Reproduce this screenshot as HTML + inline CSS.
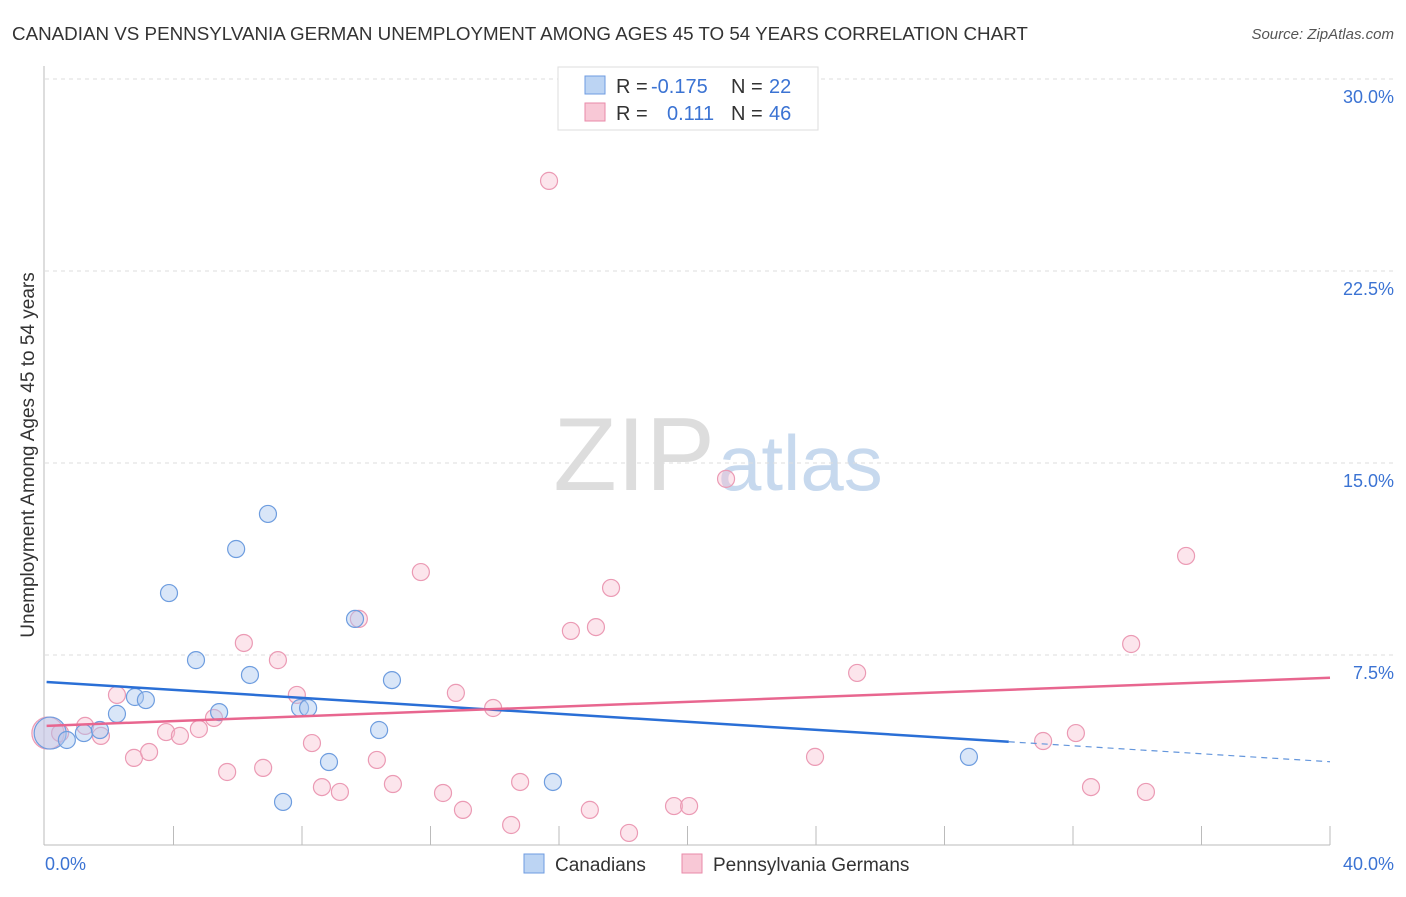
<!DOCTYPE html>
<html><head><meta charset="utf-8"><style>
body{margin:0;background:#fff;font-family:"Liberation Sans",sans-serif;}
svg text{font-family:"Liberation Sans",sans-serif;}
</style></head><body>
<svg id="chart" width="1406" height="892">
<text x="12" y="40" font-size="18.8" fill="#333">CANADIAN VS PENNSYLVANIA GERMAN UNEMPLOYMENT AMONG AGES 45 TO 54 YEARS CORRELATION CHART</text>
<text x="1394" y="39" font-size="15" fill="#555" font-style="italic" text-anchor="end">Source: ZipAtlas.com</text>
<text x="715" y="490" font-size="104" fill="#ddd" text-anchor="end" font-family="Liberation Serif">ZIP</text>
<text x="718" y="490" font-size="78" fill="#c7d9ee">atlas</text>
<g id="grid"></g><g id="axes"></g><g id="pts"></g><g id="lines"></g>
<text transform="translate(34,455) rotate(-90)" font-size="19" fill="#333" text-anchor="middle">Unemployment Among Ages 45 to 54 years</text>
<text x="45" y="870" font-size="18" fill="#3b73d3">0.0%</text>
<text x="1394" y="870" font-size="18" fill="#3b73d3" text-anchor="end">40.0%</text>
<g>
<rect x="558" y="67" width="260" height="63" fill="#fff" stroke="#ddd"/>
<rect x="585" y="76" width="20" height="18" fill="#bcd4f3" stroke="#6e9be0"/>
<rect x="585" y="103" width="20" height="18" fill="#f8c8d6" stroke="#e98aa8"/>
<text x="616" y="93" font-size="20" fill="#333">R = <tspan x="651" fill="#3b73d3">-0.175</tspan><tspan x="731">N = </tspan><tspan x="769" fill="#3b73d3">22</tspan></text>
<text x="616" y="120" font-size="20" fill="#333">R = <tspan x="667" fill="#3b73d3">0.111</tspan><tspan x="731">N = </tspan><tspan x="769" fill="#3b73d3">46</tspan></text>
</g>
<g>
<rect x="524" y="854" width="20" height="19" fill="#bcd4f3" stroke="#6e9be0"/>
<text x="555" y="871" font-size="19" fill="#333">Canadians</text>
<rect x="682" y="854" width="20" height="19" fill="#f8c8d6" stroke="#e98aa8"/>
<text x="713" y="871" font-size="19" fill="#333">Pennsylvania Germans</text>
</g>
</svg>
<script>
const yTicks=[7.5,15,22.5,30];
const yTickLabels=["7.5%","15.0%","22.5%","30.0%"];
const blueX=[0.16,0.68,1.21,1.71,2.24,2.80,3.14,3.86,4.70,5.42,5.95,6.38,6.94,7.94,8.19,8.84,9.65,10.40,10.80,15.81,7.41,28.76];
const blueY=[4.45,4.18,4.45,4.57,5.20,5.86,5.74,9.92,7.30,5.27,11.64,6.72,13.01,5.43,5.43,3.32,8.91,4.57,6.52,2.54,1.76,3.52];
const pinkX=[0.09,0.47,1.25,1.74,2.24,2.77,3.24,3.77,4.20,4.79,5.26,5.67,6.19,6.79,7.25,7.84,8.31,8.62,9.18,9.77,10.33,10.83,11.70,12.39,12.79,13.01,13.95,14.51,14.79,15.69,16.37,16.96,17.15,17.62,18.18,19.58,20.05,21.20,23.97,25.28,31.07,32.09,32.56,33.81,34.27,35.52];
const pinkY=[4.45,4.45,4.73,4.34,5.94,3.48,3.71,4.49,4.34,4.61,5.04,2.93,7.97,3.09,7.30,5.94,4.06,2.34,2.15,8.91,3.40,2.46,10.74,2.11,6.02,1.45,5.43,0.86,2.54,26.02,8.44,1.45,8.59,10.12,0.55,1.60,1.60,14.38,3.52,6.80,4.14,4.45,2.34,7.93,2.15,11.37];
const blueTrend=[6.45,-0.078];
const pinkTrend=[4.73,0.047];
const NS="http://www.w3.org/2000/svg";
const X=v=>45+v*32.125, Y=v=>847-v*25.6;
function mk(tag,attrs,parent){const e=document.createElementNS(NS,tag);for(const k in attrs)e.setAttribute(k,attrs[k]);document.getElementById(parent).appendChild(e);return e;}
yTicks.forEach((t,i)=>{
 const l=mk('line',{x1:45,x2:1394,y1:Y(t),y2:Y(t),stroke:'#ddd','stroke-dasharray':'4,4'},'grid');
 
 
 const tx=mk('text',{x:1394,y:Y(t)+24,'font-size':18,fill:'#3b73d3','text-anchor':'end'},'grid');
 tx.textContent=yTickLabels[i];
 
 
});
const ax=mk('line',{x1:44,x2:1330,y1:845,y2:845,stroke:'#bbb'},'axes');


const ay=mk('line',{x1:44,x2:44,y1:66,y2:845,stroke:'#bbb'},'axes');


for(let i=1;i<=10;i++){
 const t=mk('line',{x1:X(i*4),x2:X(i*4),y1:826,y2:845,stroke:'#bbb'},'axes');
 
 
}
function pts(xs,ys,fill,stroke,name){
 xs.forEach((x,i)=>{
  const c=mk('circle',{cx:X(x),cy:Y(ys[i]),r:i===0?16:8.5,fill:fill,stroke:stroke,'stroke-width':1.2},'pts');
  
  
 });
}
pts(pinkX,pinkY,'rgba(248,190,208,0.4)','#eb9ab4','pa-german-point');
pts(blueX,blueY,'rgba(170,200,240,0.45)','#6e9ddf','canadian-point');
const bl=mk('line',{x1:X(0.05),y1:Y(blueTrend[0]+blueTrend[1]*0.05),x2:X(30),y2:Y(blueTrend[0]+blueTrend[1]*30),stroke:'#2a6fd6','stroke-width':2.5},'lines');


const bd=mk('line',{x1:X(30),y1:Y(blueTrend[0]+blueTrend[1]*30),x2:X(40),y2:Y(blueTrend[0]+blueTrend[1]*40),stroke:'#6496dc','stroke-width':1.2,'stroke-dasharray':'6,5'},'lines');


const pl=mk('line',{x1:X(0.05),y1:Y(pinkTrend[0]+pinkTrend[1]*0.05),x2:X(40),y2:Y(pinkTrend[0]+pinkTrend[1]*40),stroke:'#e8668f','stroke-width':2.5},'lines');


</script>
</body></html>
